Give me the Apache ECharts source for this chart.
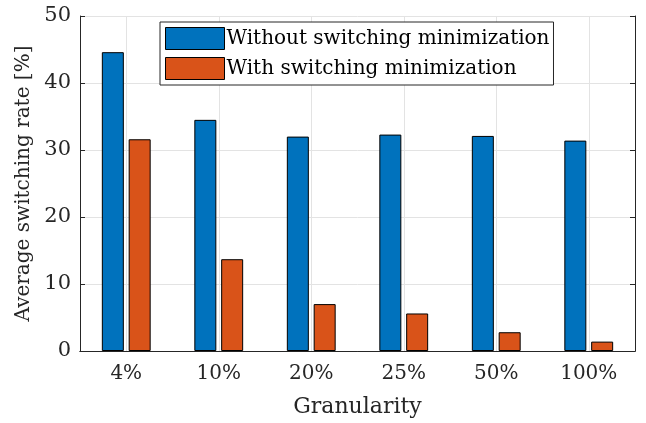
<!DOCTYPE html>
<html><head><meta charset="utf-8">
<script src="https://cdn.jsdelivr.net/npm/echarts@6/dist/echarts.min.js"></script>
<style>html,body{margin:0;padding:0;background:#fff}#c{width:646px;height:423px}</style>
</head><body><div id="c"></div>
<script>
const categories = ['4%', '10%', '20%', '25%', '50%', '100%'];
const withoutMin = [44.6, 34.5, 32.0, 32.3, 32.1, 31.4];
const withMin = [31.6, 13.7, 7.0, 5.6, 2.8, 1.4];
const yTicks = [0, 10, 20, 30, 40, 50];

const F = 'DejaVu Serif';
const axisCol = '#262626';
const chart = echarts.init(document.getElementById('c'), null, {renderer: 'canvas'});
chart.setOption({
  animation: false,
  textStyle: {fontFamily: F},
  grid: {left: 80, right: 11, top: 16, bottom: 70, show: false},
  legend: {
    orient: 'vertical', left: 160, top: 22,
    icon: 'rect',
    itemWidth: 59, itemHeight: 22, itemGap: 7,
    backgroundColor: '#fff', borderColor: axisCol, borderWidth: 1,
    padding: [5, 4, 5, 5],
    textStyle: {fontFamily: F, fontSize: 20, color: '#000', padding: [0, 0, 0, -3]},
    itemStyle: {borderColor: '#000', borderWidth: 1},
    data: ['Without switching minimization', 'With switching minimization']
  },
  xAxis: [{
    type: 'category', data: categories, boundaryGap: true,
    name: 'Granularity', nameLocation: 'middle', nameGap: 45,
    nameTextStyle: {fontFamily: F, fontSize: 22, color: '#262626'},
    axisLine: {lineStyle: {color: axisCol, width: 1}},
    axisTick: {inside: true, alignWithLabel: true, length: 5, lineStyle: {color: axisCol}},
    axisLabel: {fontFamily: F, fontSize: 20, color: '#262626', margin: 13},
    splitLine: {show: true, alignWithLabel: true, lineStyle: {color: '#e3e3e3'}}
  }, {
    type: 'category', data: categories, position: 'top', boundaryGap: true,
    axisLine: {lineStyle: {color: axisCol, width: 1}},
    axisTick: {inside: true, alignWithLabel: true, length: 5, lineStyle: {color: axisCol}},
    axisLabel: {show: false}, splitLine: {show: false}
  }],
  yAxis: [{
    type: 'value', min: 0, max: 50, interval: 10,
    name: 'Average switching rate [%]', nameLocation: 'middle', nameGap: 42,
    nameTextStyle: {fontFamily: F, fontSize: 20, color: '#262626'},
    axisLine: {show: true, lineStyle: {color: axisCol, width: 1}},
    axisTick: {show: true, inside: true, length: 5, lineStyle: {color: axisCol}},
    axisLabel: {fontFamily: F, fontSize: 21, color: '#262626', margin: 9,
      formatter: v => yTicks.includes(v) ? String(v) : ''},
    splitLine: {show: true, lineStyle: {color: '#e3e3e3'}}
  }, {
    type: 'value', min: 0, max: 50, interval: 10, position: 'right',
    axisLine: {show: true, lineStyle: {color: axisCol, width: 1}},
    axisTick: {show: true, inside: true, length: 5, lineStyle: {color: axisCol}},
    axisLabel: {show: false}, splitLine: {show: false}
  }],
  series: [{
    name: 'Without switching minimization', type: 'bar', data: withoutMin,
    barWidth: 22, barGap: '22%',
    itemStyle: {color: '#0072BD', borderColor: '#000', borderWidth: 1}
  }, {
    name: 'With switching minimization', type: 'bar', data: withMin,
    barWidth: 22, barGap: '22%',
    itemStyle: {color: '#D95319', borderColor: '#000', borderWidth: 1}
  }]
});
</script></body></html>
